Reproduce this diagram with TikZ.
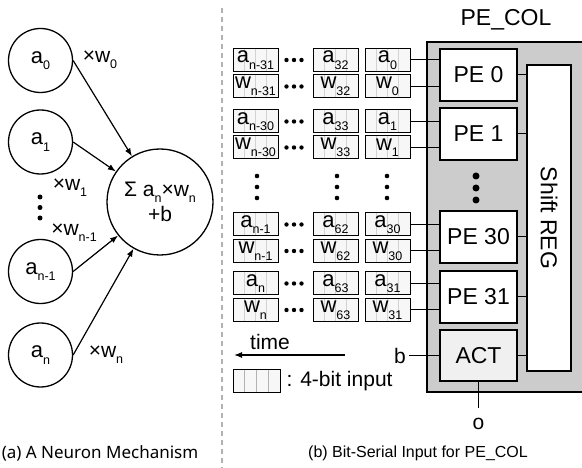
\documentclass[tikz,border=0pt]{standalone}
\usepackage{fontspec}
\setmainfont{Liberation Sans}
\newfontfamily\capfont{Noto Sans}
\usetikzlibrary{arrows.meta,calc,positioning}

% big letter with a small lowered index
\newcommand{\lbl}[2]{#1\raisebox{-0.3em}{\fontsize{12.5}{12.5}\selectfont #2}}

\tikzset{
  neuron/.style={circle, draw, line width=1.3pt, minimum size=64pt, inner sep=0pt, font=\fontsize{22}{24}\selectfont},
  bitbox/.style={draw, line width=1pt, fill=gray!6, minimum width=45pt, minimum height=23pt, inner sep=0pt,
    font=\fontsize{22}{22}\selectfont,
    path picture={\foreach \i in {1,2,3}{\draw[gray!35, line width=0.8pt]
      ($(path picture bounding box.south west)!\i/4!(path picture bounding box.south east)$) --
      ($(path picture bounding box.north west)!\i/4!(path picture bounding box.north east)$);}}},
  pebox/.style={draw, line width=1.3pt, fill=white, minimum width=77pt, minimum height=52pt, inner sep=0pt,
    font=\fontsize{23}{24}\selectfont},
  wire/.style={line width=1pt},
  arr/.style={-{Latex[length=8pt,width=6pt]}, line width=1.2pt},
  txt/.style={font=\fontsize{21}{22}\selectfont, inner sep=1pt},
}

\begin{document}
\begin{tikzpicture}[x=1pt, y=-1pt]
\useasboundingbox (0,0) rectangle (582,468);

% (a) neuron
\node[neuron] (a0) at (40.5,60.5) {\lbl{a}{0}};
\node[neuron] (a1) at (40.5,142) {\lbl{a}{1}};
\node[neuron] (an1) at (40.5,271.5) {\lbl{a}{n-1}};
\node[neuron] (an) at (40.5,355) {\lbl{a}{n}};
\node[circle, draw, line width=1.3pt, minimum size=106pt, inner sep=0pt, align=center,
  font=\fontsize{21}{25}\selectfont] (sum) at (160,202) {Σ \lbl{a}{n}×\lbl{w}{n}\\+b};
\draw[arr] (a0.east) -- (sum);
\draw[arr] (a1.east) -- (sum);
\draw[arr] (an1.east) -- (sum);
\draw[arr] (an.east) -- (sum);
\node[txt] (w0) at (100,60) {×\lbl{w}{0}};
\node[txt] (w1) at (70,188) {×\lbl{w}{1}};
\node[txt] (wn1) at (74,233) {×\lbl{w}{n-1}};
\node[txt] (wn) at (106,355) {×\lbl{w}{n}};
\foreach \y in {197,207.5,218} \fill (40,\y) circle (2.5pt);

\node[font=\capfont\fontsize{17}{20}\selectfont] (capa) at (100,453) {(a) A Neuron Mechanism};

\draw[gray!60, line width=1.5pt, dash pattern=on 5pt off 4pt] (222,8) -- (222,468);

% (b) bit-serial input
\fill[gray!40] (427,42) rectangle (582,392);
\draw[line width=1.3pt] (582,42) -| (427,392) -- (582,392);
\node[font=\fontsize{23}{24}\selectfont] (pecol) at (506,20) {PE\_COL};

\node[pebox] (pe0) at (478.5,75) {PE 0};
\node[pebox] (pe1) at (478.5,134) {PE 1};
\node[pebox] (pe30) at (478.5,237) {PE 30};
\node[pebox] (pe31) at (478.5,297) {PE 31};
\node[pebox, fill=gray!12, minimum height=51pt] (act) at (478.5,355.5) {ACT};
\foreach \y in {176,188,200} \fill (476,\y) circle (3.5pt);
\node[draw, line width=1.3pt, fill=white, minimum width=44pt, minimum height=306pt, inner sep=0pt,
  font=\fontsize{23}{24}\selectfont] (sreg) at (549,218) {\rotatebox{-90}{Shift REG}};
\foreach \p in {pe0,pe1,pe30,pe31,act}
  \draw[wire] (\p.east) -- (\p.east -| sreg.west);

\foreach \y/\v/\p/\q/\r/\k/\pe in {60/a/n-31/32/0/1/pe0, 86.5/w/n-31/32/0/2/pe0,
    121.5/a/n-30/33/1/3/pe1, 147.5/w/n-30/33/1/4/pe1, 224.5/a/n-1/62/30/5/pe30,
    251/w/n-1/62/30/6/pe30, 283.5/a/n/63/31/7/pe31, 310/w/n/63/31/8/pe31}{
  \node[bitbox] (first\k) at (255.5,\y) {\lbl{\v}{\p}};
  \node[bitbox] (mid\k) at (335.5,\y) {\lbl{\v}{\q}};
  \node[bitbox] (last\k) at (387.5,\y) {\lbl{\v}{\r}};
  \foreach \d in {-7.5,0,7.5} \fill (294+\d,\y) circle (2.2pt);
  \draw[wire] (last\k.east) -- (last\k.east -| \pe.west);
}
\foreach \x in {257,337,387}
  \foreach \y in {176,187,198} \fill (\x,\y) circle (2.3pt);

\node[font=\fontsize{21}{22}\selectfont] (b) at (400,355.5) {b};
\draw[wire] (b) -- (act);
\coordinate (oend) at (478.5,408);
\draw[wire] (act.south) -- (oend);
\node[font=\fontsize{21}{22}\selectfont] (o) at (478.5,424) {o};

\coordinate (tstart) at (345,355);
\coordinate (tend) at (234,355);
\draw[arr] (tstart) -- (tend);
\node[txt] (time) at (270,342) {time};
\node[bitbox, minimum width=47pt, draw, path picture={\foreach \i in {1,2,3}{\draw[gray!60, line width=1pt]
      ($(path picture bounding box.south west)!\i/4!(path picture bounding box.south east)$) --
      ($(path picture bounding box.north west)!\i/4!(path picture bounding box.north east)$);}}] (legend) at (256.5,381) {};
\node[txt, right=5pt of legend] (legtxt) {: 4-bit input};

\node[font=\fontsize{16}{18}\selectfont] (capb) at (418,453) {(b) Bit-Serial Input for PE\_COL};
\end{tikzpicture}
\end{document}
